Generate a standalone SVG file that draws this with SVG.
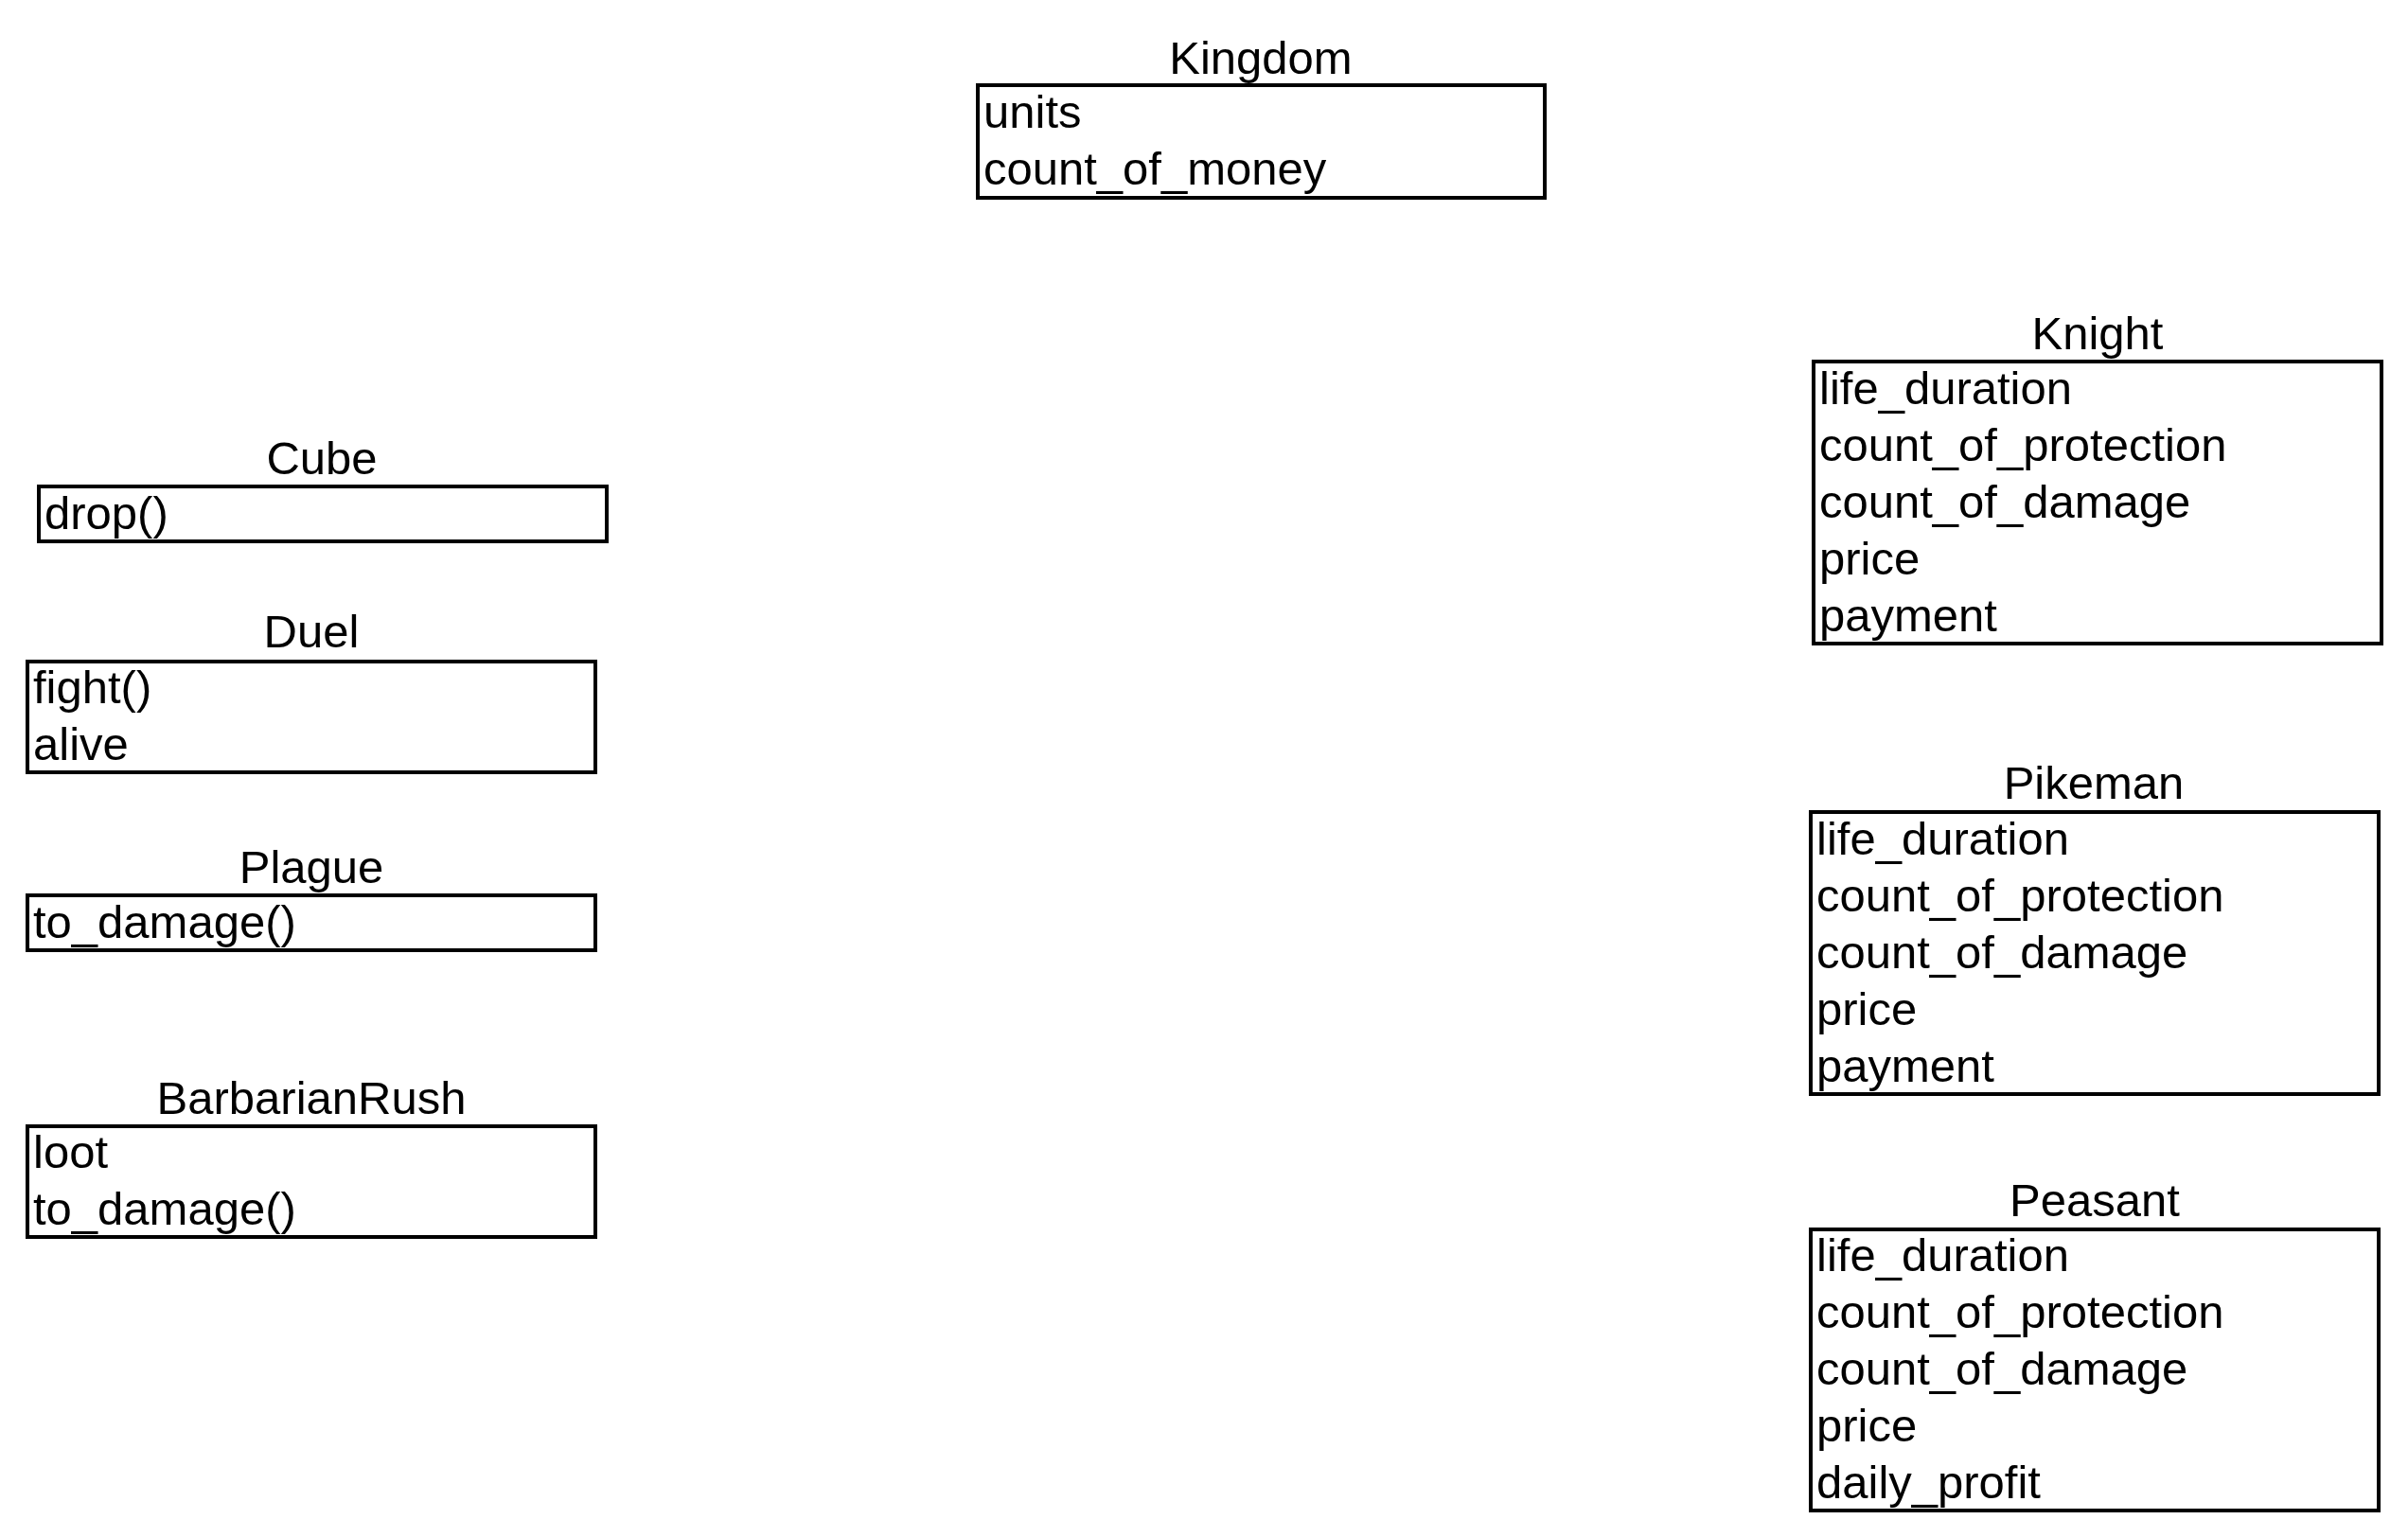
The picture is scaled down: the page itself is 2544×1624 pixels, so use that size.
<svg xmlns="http://www.w3.org/2000/svg" width="2544" height="1624" viewBox="0 0 2544 1624">
<style>
.box{fill:#fff;stroke:#000;stroke-width:4}
.t{font-family:"Liberation Sans",Arial,sans-serif;font-size:49px;fill:#000}
.c{text-anchor:middle}
</style>
<rect width="2544" height="1624" fill="#fff"/>
<g id="connectors"></g>
<g id="Kingdom">
<text class="t c" x="1332" y="78">Kingdom</text>
<rect class="box" x="1033" y="90" width="599" height="119"/>
<text class="t" x="1039" y="135">units</text>
<text class="t" x="1039" y="195">count_of_money</text>
</g>
<g id="Knight">
<text class="t c" x="2216" y="369">Knight</text>
<rect class="box" x="1916" y="382" width="600" height="298"/>
<text class="t" x="1922" y="427">life_duration</text>
<text class="t" x="1922" y="487">count_of_protection</text>
<text class="t" x="1922" y="547">count_of_damage</text>
<text class="t" x="1922" y="607">price</text>
<text class="t" x="1922" y="667">payment</text>
</g>
<g id="Pikeman">
<text class="t c" x="2212" y="844">Pikeman</text>
<rect class="box" x="1913" y="858" width="600" height="298"/>
<text class="t" x="1919" y="903">life_duration</text>
<text class="t" x="1919" y="963">count_of_protection</text>
<text class="t" x="1919" y="1023">count_of_damage</text>
<text class="t" x="1919" y="1083">price</text>
<text class="t" x="1919" y="1143">payment</text>
</g>
<g id="Peasant">
<text class="t c" x="2213" y="1285">Peasant</text>
<rect class="box" x="1913" y="1299" width="600" height="297"/>
<text class="t" x="1919" y="1343">life_duration</text>
<text class="t" x="1919" y="1403">count_of_protection</text>
<text class="t" x="1919" y="1463">count_of_damage</text>
<text class="t" x="1919" y="1523">price</text>
<text class="t" x="1919" y="1583">daily_profit</text>
</g>
<g id="Cube">
<text class="t c" x="340" y="501">Cube</text>
<rect class="box" x="41" y="514" width="600" height="58"/>
<text class="t" x="47" y="559">drop()</text>
</g>
<g id="Duel">
<text class="t c" x="329" y="684">Duel</text>
<rect class="box" x="29" y="699" width="600" height="117"/>
<text class="t" x="35" y="743">fight()</text>
<text class="t" x="35" y="803">alive</text>
</g>
<g id="Plague">
<text class="t c" x="329" y="933">Plague</text>
<rect class="box" x="29" y="946" width="600" height="58"/>
<text class="t" x="35" y="991">to_damage()</text>
</g>
<g id="BarbarianRush">
<text class="t c" x="329" y="1177">BarbarianRush</text>
<rect class="box" x="29" y="1190" width="600" height="117"/>
<text class="t" x="35" y="1234">loot</text>
<text class="t" x="35" y="1294">to_damage()</text>
</g>
</svg>
